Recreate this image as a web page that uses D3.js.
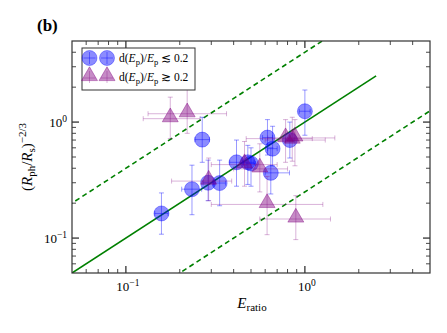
<!DOCTYPE html>
<html>
<head>
<meta charset="utf-8">
<script src="https://cdn.jsdelivr.net/npm/d3@7"></script>
<style>
body { margin: 0; background: #fff; }
text { font-family: "Liberation Serif", "DejaVu Serif", serif; fill: #000; }
</style>
</head>
<body>
<svg id="chart" width="447" height="333"></svg>
<script>
// blue circles: dE_p/E_p <= 0.2
let blueX    = [0.158, 0.234, 0.267, 0.288, 0.334, 0.415, 0.48, 0.50, 0.618, 0.66, 0.645, 0.824, 1.0]
let blueY    = [0.163, 0.264, 0.706, 0.30, 0.298, 0.45, 0.45, 0.44, 0.735, 0.59, 0.365, 0.70, 1.24]
let blueXlo  = [0.145, 0.205, 0.243, 0.27, 0.31, 0.38, 0.45, 0.47, 0.58, 0.62, 0.60, 0.78, 0.93]
let blueXhi  = [0.172, 0.265, 0.293, 0.31, 0.36, 0.45, 0.52, 0.53, 0.66, 0.70, 0.82, 0.87, 1.07]
let blueYlo  = [0.108, 0.159, 0.45, 0.21, 0.19, 0.28, 0.29, 0.28, 0.52, 0.42, 0.24, 0.49, 0.77]
let blueYhi  = [0.245, 0.425, 1.10, 0.47, 0.47, 0.70, 0.63, 0.60, 1.05, 0.92, 0.60, 1.0, 1.89]

// purple triangles: dE_p/E_p >= 0.2
let purpX    = [0.177, 0.22, 0.29, 0.46, 0.56, 0.615, 0.89, 0.78, 0.85, 0.88]
let purpY    = [1.07, 1.18, 0.31, 0.43, 0.395, 0.195, 0.146, 0.72, 0.70, 0.73]
let purpXlo  = [0.125, 0.133, 0.18, 0.30, 0.40, 0.30, 0.56, 0.47, 0.60, 0.62]
let purpXhi  = [0.26, 0.365, 0.39, 0.70, 0.80, 1.26, 1.39, 1.1, 1.3, 1.47]
let purpYlo  = [0.72, 0.80, 0.21, 0.28, 0.25, 0.107, 0.097, 0.45, 0.46, 0.42]
let purpYhi  = [1.64, 1.95, 0.49, 0.68, 0.65, 0.34, 0.232, 1.05, 1.1, 1.05]

// reference lines y = k * x
let lineFactors = [1, 4, 0.25]
let xMajor = [0.1, 1]
let yMajor = [0.1, 1]

let svg = d3.select("#chart")
let margin = {left: 72, right: 17, top: 41, bottom: 60}
let W = 447, H = 333
let x = d3.scaleLog().domain([0.05, 5]).range([margin.left, W - margin.right])
let y = d3.scaleLog().domain([0.05, 5]).range([H - margin.bottom, margin.top])

svg.append("clipPath").attr("id", "clip")
    .append("rect")
    .attr("x", margin.left).attr("y", margin.top)
    .attr("width", W - margin.left - margin.right)
    .attr("height", H - margin.top - margin.bottom)

let plot = svg.append("g").attr("clip-path", "url(#clip)")

// green lines
lineFactors.forEach(k=>{
    let x1 = k == 1 ? 2.5 : 10
    plot.append("line")
        .attr("x1", x(0.01)).attr("y1", y(0.01 * k))
        .attr("x2", x(x1)).attr("y2", y(x1 * k))
        .attr("stroke", "#008000")
        .attr("stroke-width", 1.6)
        .attr("stroke-dasharray", k == 1 ? null : "5,3.5")
})

function errorBars(g, xs, ys, xlo, xhi, ylo, yhi, color)
{
    let cap = 2.5
    xs.forEach((xv, i)=>{
        let cx = x(xv), cy = y(ys[i])
        let e = g.append("g")
            .attr("stroke", color)
            .attr("stroke-width", 1)
        e.append("line").attr("x1", x(xlo[i])).attr("x2", x(xhi[i])).attr("y1", cy).attr("y2", cy)
        e.append("line").attr("x1", cx).attr("x2", cx).attr("y1", y(ylo[i])).attr("y2", y(yhi[i]))
        e.append("line").attr("x1", x(xlo[i])).attr("x2", x(xlo[i])).attr("y1", cy - cap).attr("y2", cy + cap)
        e.append("line").attr("x1", x(xhi[i])).attr("x2", x(xhi[i])).attr("y1", cy - cap).attr("y2", cy + cap)
        e.append("line").attr("x1", cx - cap).attr("x2", cx + cap).attr("y1", y(ylo[i])).attr("y2", y(ylo[i]))
        e.append("line").attr("x1", cx - cap).attr("x2", cx + cap).attr("y1", y(yhi[i])).attr("y2", y(yhi[i]))
    })
}

let triPath = d3.symbol().type(d3.symbolTriangle).size(110)

// blue points
let blueG = plot.append("g")
errorBars(blueG, blueX, blueY, blueXlo, blueXhi, blueYlo, blueYhi, "rgba(0,0,255,0.4)")
blueG.selectAll("circle").data(blueX).enter().append("circle")
    .attr("cx", d=>x(d))
    .attr("cy", (d, i)=>y(blueY[i]))
    .attr("r", 7.5)
    .attr("fill", "rgba(0,0,255,0.45)")
    .attr("stroke", "rgba(0,0,255,0.35)")

// purple points
let purpG = plot.append("g")
errorBars(purpG, purpX, purpY, purpXlo, purpXhi, purpYlo, purpYhi, "rgba(128,0,128,0.3)")
purpG.selectAll("path.tri").data(purpX).enter().append("path")
    .attr("class", "tri")
    .attr("d", triPath)
    .attr("transform", (d, i)=>`translate(${x(d)},${y(purpY[i]) - 1.5})`)
    .attr("fill", "rgba(128,0,128,0.45)")
    .attr("stroke", "rgba(128,0,128,0.4)")

// frame
svg.append("rect")
    .attr("x", margin.left).attr("y", margin.top)
    .attr("width", W - margin.left - margin.right)
    .attr("height", H - margin.top - margin.bottom)
    .attr("fill", "none").attr("stroke", "#333").attr("stroke-width", 1.2)

// ticks inward on all sides
function minorTicks(scale)
{
    let [a, b] = scale.domain()
    let out = []
    for (let e = -3; e <= 2; e++) {
        for (let m = 1; m < 10; m++) {
            let v = m * Math.pow(10, e)
            if (v > a * 1.0001 && v < b * 0.9999) out.push(v)
        }
    }
    return out
}
let tickG = svg.append("g").attr("stroke", "#333")
let x0 = margin.left, x1 = W - margin.right, y0 = H - margin.bottom, y1 = margin.top
minorTicks(x).forEach(v=>{
    let major = xMajor.some(m=>Math.abs(m - v) < 1e-9)
    let len = major ? 7 : 4
    let sw = major ? 1.3 : 0.9
    tickG.append("line").attr("x1", x(v)).attr("x2", x(v)).attr("y1", y0).attr("y2", y0 - len).attr("stroke-width", sw)
    tickG.append("line").attr("x1", x(v)).attr("x2", x(v)).attr("y1", y1).attr("y2", y1 + len).attr("stroke-width", sw)
})
minorTicks(y).forEach(v=>{
    let major = yMajor.some(m=>Math.abs(m - v) < 1e-9)
    let len = major ? 7 : 4
    let sw = major ? 1.3 : 0.9
    tickG.append("line").attr("y1", y(v)).attr("y2", y(v)).attr("x1", x0).attr("x2", x0 + len).attr("stroke-width", sw)
    tickG.append("line").attr("y1", y(v)).attr("y2", y(v)).attr("x1", x1).attr("x2", x1 - len).attr("stroke-width", sw)
})

// tick labels
function powLabel(g, v, px, py, anchor)
{
    let t = g.append("text").attr("x", px).attr("y", py)
        .attr("text-anchor", anchor).attr("font-size", 13)
    t.append("tspan").text("10")
    t.append("tspan").attr("dy", -5).attr("font-size", 9.5)
        .text(Math.round(Math.log10(v)) < 0 ? "\u2212" + (-Math.round(Math.log10(v))) : String(Math.round(Math.log10(v))))
}
xMajor.forEach(v=>powLabel(svg, v, x(v) + 2, y0 + 18, "middle"))
yMajor.forEach(v=>powLabel(svg, v, x0 - 5, y(v) + 5, "end"))

// axis labels
let xl = svg.append("text").attr("x", 252).attr("y", 308).attr("text-anchor", "middle").attr("font-size", 15)
xl.append("tspan").attr("font-style", "italic").text("E")
xl.append("tspan").attr("dy", 3).attr("font-size", 11).text("ratio")

let yl = svg.append("text")
    .attr("transform", "translate(32,157) rotate(-90)")
    .attr("text-anchor", "middle").attr("font-size", 15)
yl.append("tspan").text("(")
yl.append("tspan").attr("font-style", "italic").text("R")
yl.append("tspan").attr("dy", 3).attr("font-size", 11).text("ph")
yl.append("tspan").attr("dy", -3).text("/")
yl.append("tspan").attr("font-style", "italic").text("R")
yl.append("tspan").attr("dy", 3).attr("font-size", 11).text("s")
yl.append("tspan").attr("dy", -3).text(")")
yl.append("tspan").attr("dy", -6).attr("font-size", 11).text("\u22122/3")

// panel label
svg.append("text").attr("x", 37).attr("y", 31).attr("font-size", 17).attr("font-weight", "bold").text("(b)")

// legend
let leg = svg.append("g")
leg.append("rect").attr("x", 82).attr("y", 48).attr("width", 113).attr("height", 42)
    .attr("fill", "#fff").attr("stroke", "#333").attr("stroke-width", 1)
let legRows = [
    {y: 58, sym: "c", rel: "\u2272"},
    {y: 77, sym: "t", rel: "\u2273"}
]
legRows.forEach(r=>{
    [89.5, 107].forEach(cx=>{
        if (r.sym == "c") {
            leg.append("line").attr("x1", cx - 6).attr("x2", cx + 6).attr("y1", r.y).attr("y2", r.y).attr("stroke", "rgba(0,0,255,0.4)")
            leg.append("line").attr("x1", cx).attr("x2", cx).attr("y1", r.y - 6).attr("y2", r.y + 6).attr("stroke", "rgba(0,0,255,0.4)")
            leg.append("circle").attr("cx", cx).attr("cy", r.y).attr("r", 7.5)
                .attr("fill", "rgba(0,0,255,0.45)").attr("stroke", "rgba(0,0,255,0.35)")
        } else {
            leg.append("line").attr("x1", cx - 6).attr("x2", cx + 6).attr("y1", r.y + 1).attr("y2", r.y + 1).attr("stroke", "rgba(128,0,128,0.3)")
            leg.append("line").attr("x1", cx).attr("x2", cx).attr("y1", r.y - 6).attr("y2", r.y + 6).attr("stroke", "rgba(128,0,128,0.3)")
            leg.append("path").attr("d", triPath).attr("transform", `translate(${cx},${r.y - 1})`)
                .attr("fill", "rgba(128,0,128,0.45)").attr("stroke", "rgba(128,0,128,0.4)")
        }
    })
    let t = leg.append("text").attr("x", 119).attr("y", r.y + 4).attr("font-size", 11.5)
    t.append("tspan").text("d(")
    t.append("tspan").attr("font-style", "italic").text("E")
    t.append("tspan").attr("dy", 2.5).attr("font-size", 8.5).text("p")
    t.append("tspan").attr("dy", -2.5).text(")/")
    t.append("tspan").attr("font-style", "italic").text("E")
    t.append("tspan").attr("dy", 2.5).attr("font-size", 8.5).text("p")
    t.append("tspan").attr("dy", -2.5).text(" " + r.rel + " 0.2")
})
</script>
</body>
</html>
